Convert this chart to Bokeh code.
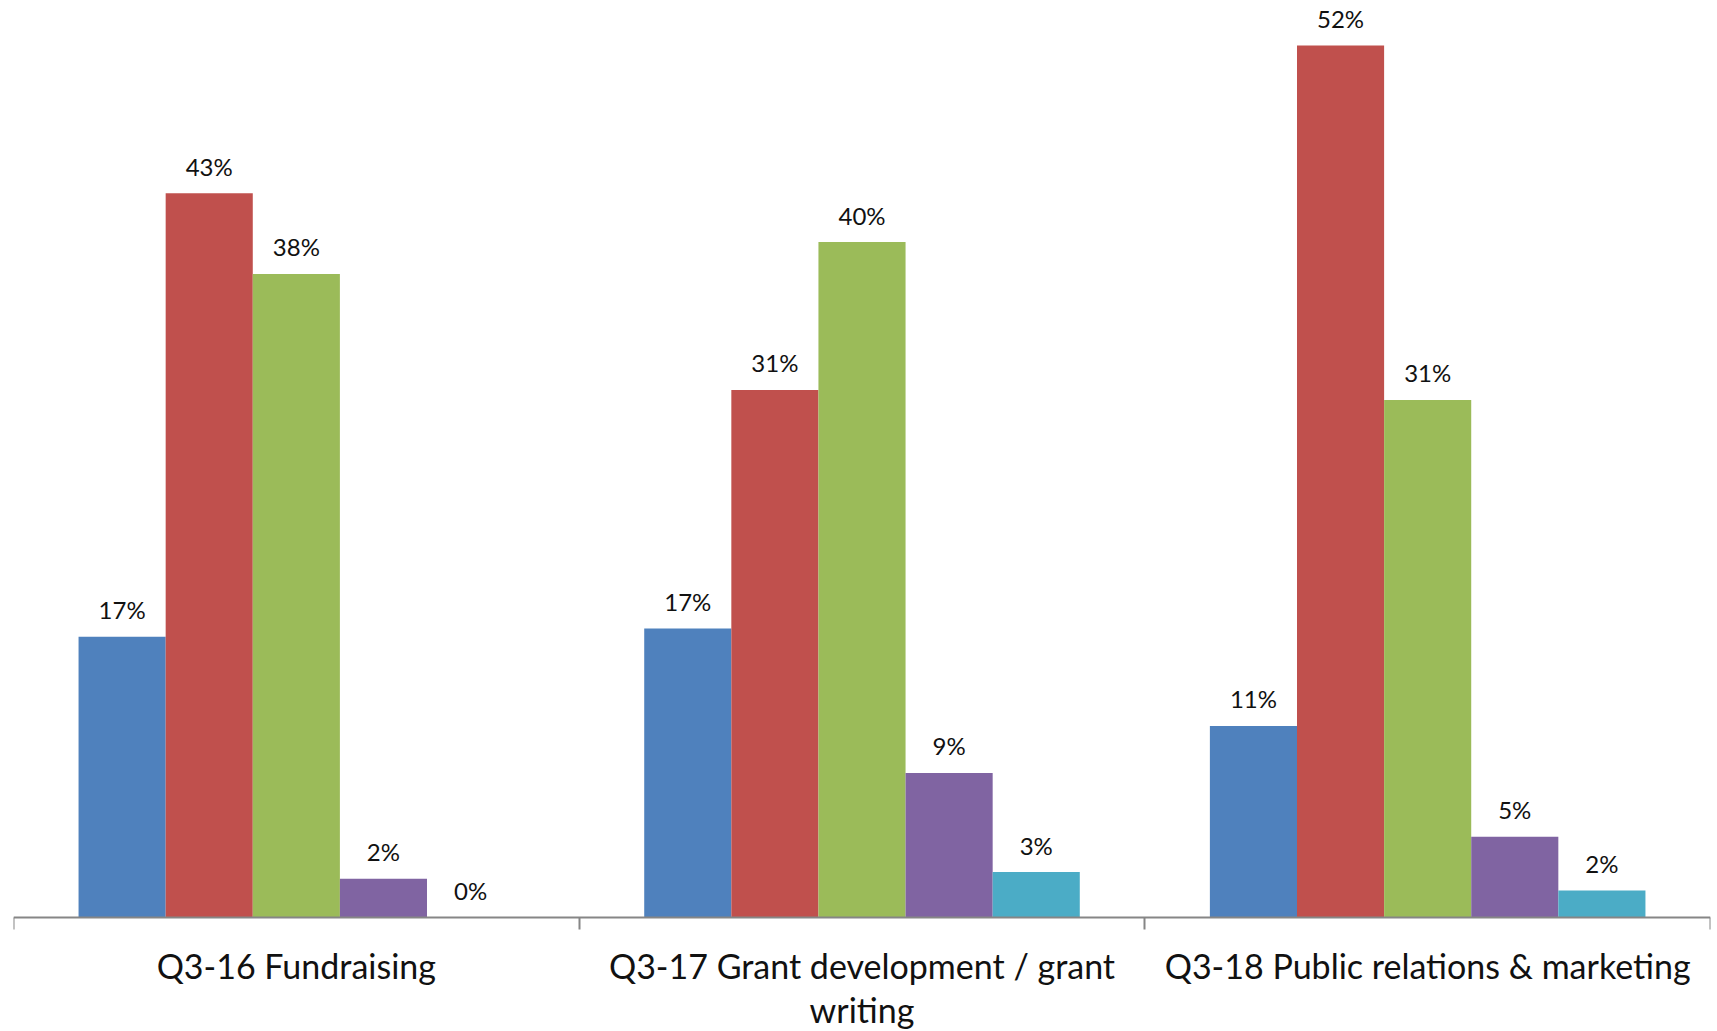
from bokeh.plotting import figure
from bokeh.models import Range1d, FixedTicker, ColumnDataSource
from bokeh.embed import file_html
from bokeh.resources import INLINE
from bokeh.core.properties import value

categories = ["Q3-16 Fundraising", "Q3-17 Grant development / grant\nwriting", "Q3-18 Public relations & marketing"]
series_colors = ["#4F81BD", "#C0504D", "#9BBB59", "#8064A2", "#4BACC6"]
s1 = [16.7, 17.2, 11.4]
s2 = [43.1, 31.4, 51.9]
s3 = [38.3, 40.2, 30.8]
s4 = [2.3, 8.6, 4.8]
s5 = [0.0, 2.7, 1.6]
series = [s1, s2, s3, s4, s5]

BAR_W = 0.154
p = figure(width=1717, height=1031, output_backend="svg", toolbar_location=None,
           x_range=Range1d(0, 3), y_range=Range1d(-6.79, 54.58),
           min_border_left=13, min_border_right=7, min_border_top=0, min_border_bottom=0)
p.outline_line_color = None
p.xgrid.visible = False
p.ygrid.visible = False
p.yaxis.visible = False

for j, vals in enumerate(series):
    xs = [i + 0.5 + (j - 2) * BAR_W for i in range(len(categories))]
    labels = ["%d%%" % round(v) for v in vals]
    src = ColumnDataSource(dict(x=xs, top=vals, lab=labels))
    p.vbar(x="x", top="top", bottom=0, width=BAR_W, source=src,
           fill_color=series_colors[j], line_color=None)
    p.text(x="x", y="top", text="lab", source=src, text_align="center",
           text_baseline="middle", y_offset=-27, text_font=value("Lato"),
           text_font_size="24px", text_color="#111111")

ax = p.xaxis[0]
ax.fixed_location = 0
ax.ticker = FixedTicker(ticks=[i + 0.5 for i in range(len(categories))],
                        minor_ticks=list(range(len(categories) + 1)))
ax.major_label_overrides = {i + 0.5: c for i, c in enumerate(categories)}
ax.major_tick_in = 0
ax.major_tick_out = 0
ax.minor_tick_in = 0
ax.minor_tick_out = 12
ax.minor_tick_line_color = "#868686"
ax.axis_line_color = "#868686"
ax.axis_line_width = 2
ax.minor_tick_line_width = 2
ax.major_label_text_font = "Lato"
ax.major_label_text_font_size = "34px"
ax.major_label_text_line_height = 1.06
ax.major_label_text_color = "#111111"
ax.major_label_standoff = 16

open("out.html", "w").write(file_html(p, INLINE))
